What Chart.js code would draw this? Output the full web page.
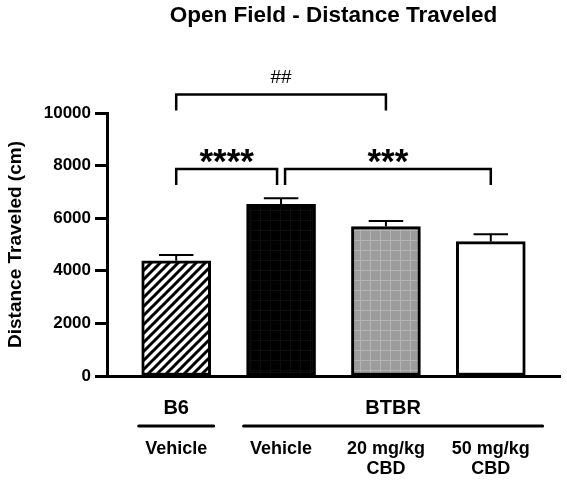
<!DOCTYPE html>
<html>
<head>
<meta charset="utf-8">
<title>Open Field - Distance Traveled</title>
<script src="https://cdn.jsdelivr.net/npm/chart.js@4.4.1/dist/chart.umd.min.js"></script>
<style>
  html, body { margin: 0; padding: 0; background: #fff; }
</style>
</head>
<body>
<canvas id="distanceChart" width="567" height="482"></canvas>
<script>
const FONT = "'Liberation Sans', Arial, Helvetica, sans-serif"

// data
const treatments = [['Vehicle'], ['Vehicle'], ['20 mg/kg', 'CBD'], ['50 mg/kg', 'CBD']]
const strains = ['B6', 'BTBR']
const strainOfBar = [0, 1, 1, 1]
const distance = [4380, 6530, 5680, 5110]
const distanceSem = [220, 230, 215, 280]
const yTicks = [0, 2000, 4000, 6000, 8000, 10000]

// significance brackets: bar pairs, marks, bracket height (cm)
const sigPairs = [[0, 2], [0, 1], [1, 3]]
const sigMarks = ['##', '****', '***']
const sigHeights = [10700, 7870, 7870]

function hatchPattern() {
  const c = document.createElement('canvas')
  c.width = 9
  c.height = 9
  const g = c.getContext('2d')
  g.fillStyle = '#fff'
  g.fillRect(0, 0, 9, 9)
  g.strokeStyle = '#000'
  g.lineWidth = 3
  g.beginPath()
  g.moveTo(-2, 11); g.lineTo(11, -2)
  g.moveTo(-2, 2); g.lineTo(2, -2)
  g.moveTo(7, 11); g.lineTo(11, 7)
  g.stroke()
  return g.createPattern(c, 'repeat')
}

function gridPattern(base, line) {
  const c = document.createElement('canvas')
  c.width = 10
  c.height = 10
  const g = c.getContext('2d')
  g.fillStyle = base
  g.fillRect(0, 0, 10, 10)
  g.fillStyle = line
  g.fillRect(0, 0, 10, 1)
  g.fillRect(0, 0, 1, 10)
  return g.createPattern(c, 'repeat')
}

const errorBars = {
  id: 'errorBars',
  afterDatasetsDraw(chart) {
    const { ctx, scales: { y } } = chart
    const bars = chart.getDatasetMeta(0).data
    ctx.save()
    ctx.strokeStyle = '#000'
    ctx.lineWidth = 2
    bars.forEach((bar, i) => {
      const top = y.getPixelForValue(distance[i] + distanceSem[i])
      const half = bar.width / 4
      ctx.beginPath()
      ctx.moveTo(bar.x, bar.y)
      ctx.lineTo(bar.x, top)
      ctx.moveTo(bar.x - half, top)
      ctx.lineTo(bar.x + half, top)
      ctx.stroke()
    })
    ctx.restore()
  }
}

const brackets = {
  id: 'brackets',
  afterDraw(chart) {
    const { ctx, scales: { x, y } } = chart
    ctx.save()
    ctx.strokeStyle = '#000'
    ctx.fillStyle = '#000'
    ctx.lineWidth = 2.5
    ctx.textAlign = 'center'
    ctx.textBaseline = 'alphabetic'
    sigPairs.forEach(([a, b], k) => {
      const shared = idx => sigPairs.some(([c, d], j) =>
        j !== k && sigHeights[j] === sigHeights[k] && (c === idx || d === idx))
      const x1 = x.getPixelForValue(a) + (shared(a) ? 4 : 0)
      const x2 = x.getPixelForValue(b) - (shared(b) ? 4 : 0)
      const yy = y.getPixelForValue(sigHeights[k])
      ctx.beginPath()
      ctx.moveTo(x1, yy + 16)
      ctx.lineTo(x1, yy)
      ctx.lineTo(x2, yy)
      ctx.lineTo(x2, yy + 16)
      ctx.stroke()
      const star = sigMarks[k].startsWith('*')
      ctx.font = star ? `bold 35px ${FONT}` : `19px ${FONT}`
      ctx.fillText(sigMarks[k], (x1 + x2) / 2, star ? yy + 4 : yy - 12)
    })
    ctx.restore()
  }
}

const strainLabels = {
  id: 'strainLabels',
  afterDraw(chart) {
    const { ctx, chartArea } = chart
    const bars = chart.getDatasetMeta(0).data
    ctx.save()
    ctx.strokeStyle = '#000'
    ctx.fillStyle = '#000'
    ctx.lineWidth = 3
    ctx.lineCap = 'round'
    ctx.textAlign = 'center'
    ctx.textBaseline = 'middle'
    ctx.font = `bold 20px ${FONT}`
    strains.forEach((name, s) => {
      const idx = strainOfBar.map((g, i) => (g === s ? i : -1)).filter(i => i >= 0)
      const first = bars[idx[0]]
      const last = bars[idx[idx.length - 1]]
      const left = first.x - first.width / 2 - 3
      const right = idx.length > 1
        ? (last.x + last.width / 2 + chartArea.right) / 2
        : last.x + last.width / 2 + 3
      const lineY = chartArea.bottom + 50
      ctx.beginPath()
      ctx.moveTo(left, lineY)
      ctx.lineTo(right, lineY)
      ctx.stroke()
      ctx.fillText(name, (left + right) / 2, chartArea.bottom + 32)
    })
    ctx.restore()
  }
}

const ctx = document.getElementById('distanceChart')

new Chart(ctx, {
  type: 'bar',
  data: {
    datasets: [{
      data: distance.map((v, i) => ({ x: i, y: v })),
      backgroundColor: [
        hatchPattern(),
        gridPattern('#000', '#0d0d0d'),
        gridPattern('#9c9c9c', '#b4b4b4'),
        '#fff'
      ],
      borderColor: '#000',
      borderWidth: 3,
      borderSkipped: false,
      barThickness: 69
    }]
  },
  options: {
    responsive: false,
    animation: false,
    layout: { padding: { left: 0, right: 7, top: 0, bottom: 0 } },
    plugins: {
      legend: { display: false },
      tooltip: { enabled: false },
      title: {
        display: true,
        text: 'Open Field - Distance Traveled',
        fullSize: false,
        color: '#000',
        font: { family: FONT, size: 22.5, weight: 'bold' },
        padding: { top: 2, bottom: 84 }
      }
    },
    scales: {
      x: {
        type: 'linear',
        offset: false,
        min: -0.66,
        max: 3.66,
        afterBuildTicks: s => { s.ticks = treatments.map((t, i) => ({ value: i })) },
        afterFit: s => {
          s.height = 106
          s.paddingLeft = 0
          s.paddingRight = 0
        },
        grid: { display: false, drawTicks: false, offset: false },
        border: { display: true, color: '#000', width: 3 },
        ticks: {
          callback: v => treatments[v],
          color: '#000',
          font: { family: FONT, size: 18, weight: 'bold', lineHeight: 1.12 },
          padding: 63,
          maxRotation: 0,
          autoSkip: false
        }
      },
      y: {
        min: 0,
        max: 10000,
        afterBuildTicks: s => { s.ticks = yTicks.map(v => ({ value: v })) },
        afterFit: s => { s.width = 107 },
        grid: {
          drawOnChartArea: false,
          drawTicks: true,
          tickLength: 12,
          tickWidth: 3,
          tickColor: '#000'
        },
        border: { color: '#000', width: 3 },
        ticks: {
          callback: v => String(v),
          color: '#000',
          font: { family: FONT, size: 17, weight: 'bold' },
          padding: 4
        },
        title: {
          display: true,
          text: 'Distance Traveled (cm)',
          color: '#000',
          font: { family: FONT, size: 19, weight: 'bold' },
          padding: { top: 4, bottom: 0 }
        }
      }
    }
  },
  plugins: [errorBars, brackets, strainLabels]
})
</script>
</body>
</html>
